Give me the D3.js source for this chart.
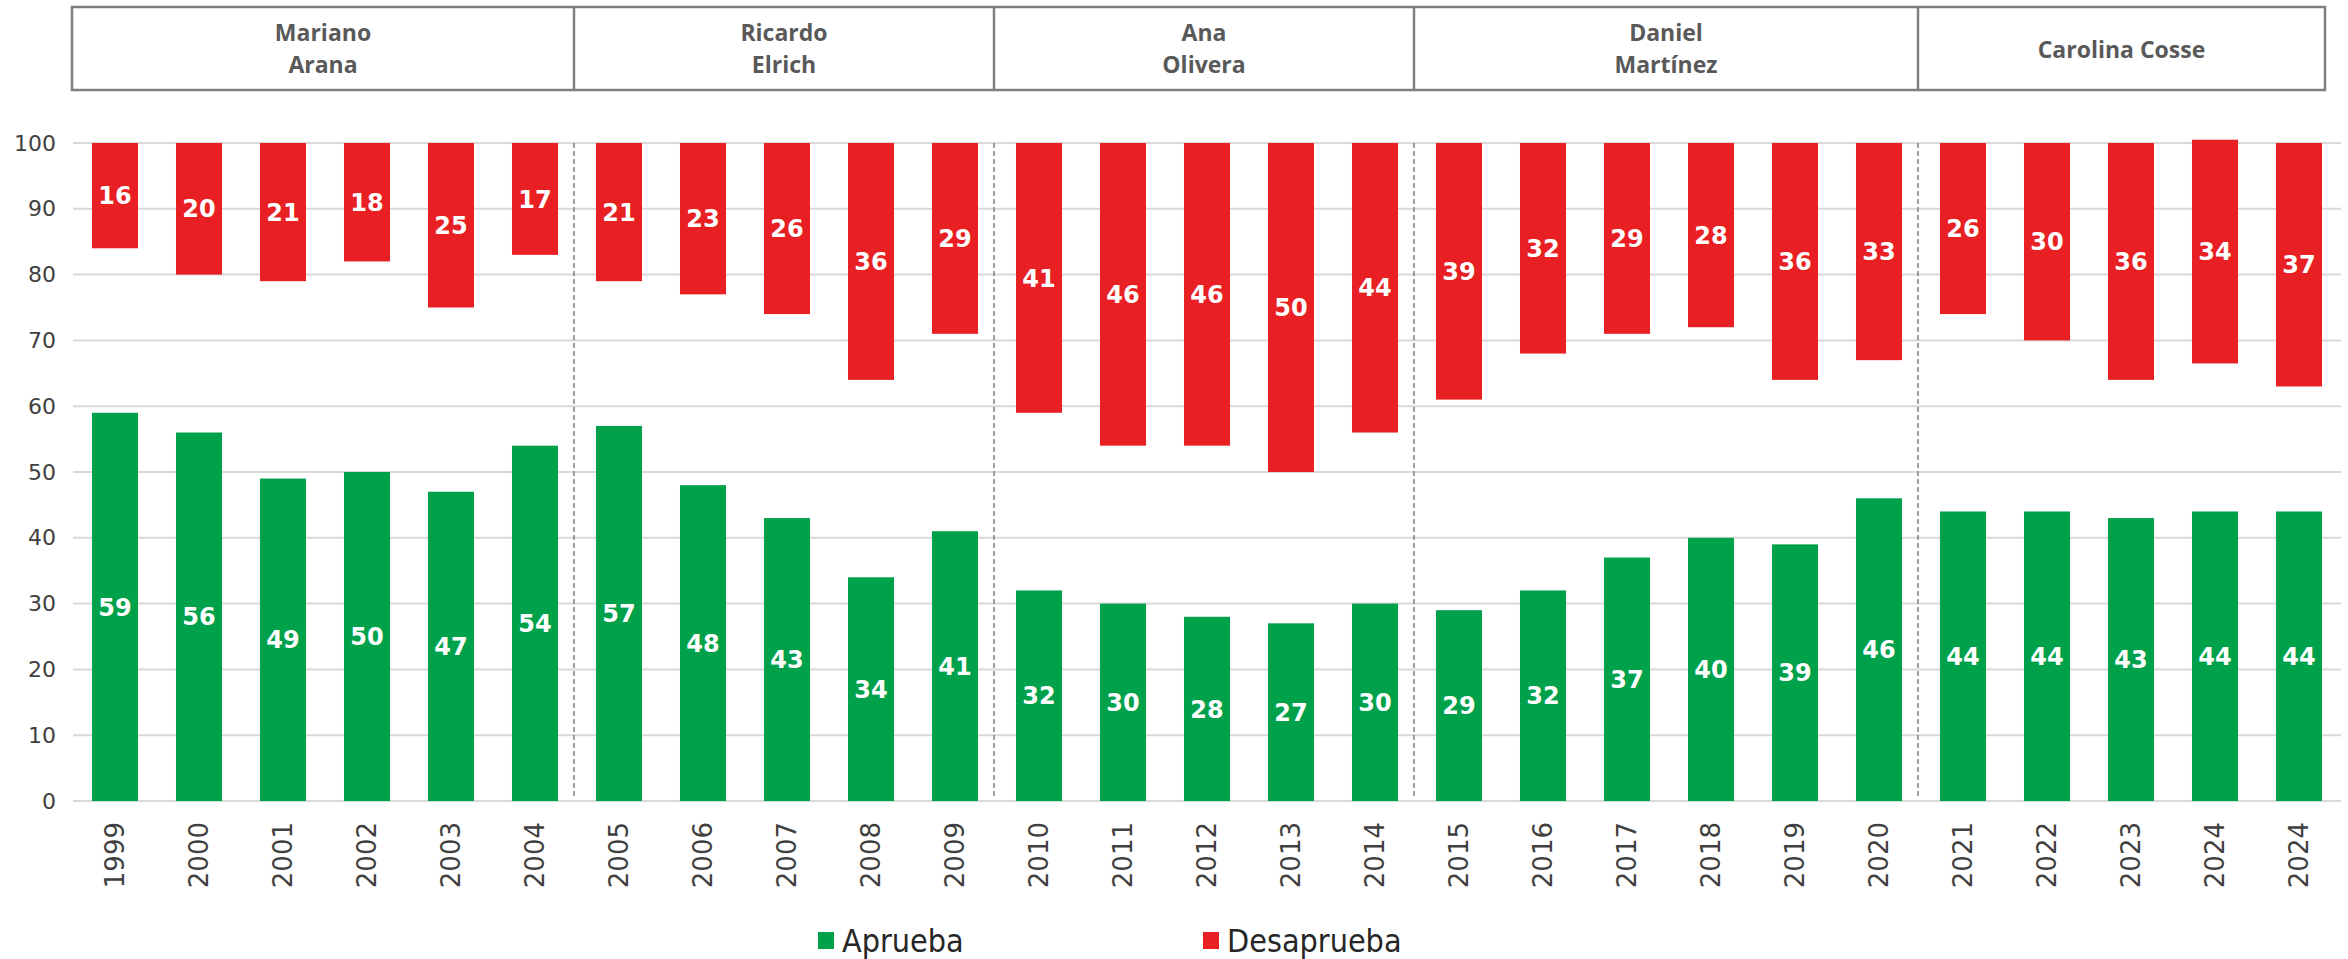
<!DOCTYPE html>
<html>
<head>
<meta charset="utf-8">
<script src="https://cdn.jsdelivr.net/npm/d3@7"></script>
<style>
  html, body { margin: 0; padding: 0; background: #fff; }
  svg { display: block; }
</style>
</head>
<body>
<div id="chart"></div>
<script>
const years = ['1999', '2000', '2001', '2002', '2003', '2004',
  '2005', '2006', '2007', '2008', '2009',
  '2010', '2011', '2012', '2013', '2014',
  '2015', '2016', '2017', '2018', '2019', '2020',
  '2021', '2022', '2023', '2024', '2024'];
const aprueba = [59, 56, 49, 50, 47, 54,
  57, 48, 43, 34, 41,
  32, 30, 28, 27, 30,
  29, 32, 37, 40, 39, 46,
  44, 44, 43, 44, 44];
const desaprueba = [16, 20, 21, 18, 25, 17,
  21, 23, 26, 36, 29,
  41, 46, 46, 50, 44,
  39, 32, 29, 28, 36, 33,
  26, 30, 36, 34, 37];
// where the red bar starts (one bar pokes above 100)
const desapruebaBase = [84, 80, 79, 82, 75, 83,
  79, 77, 74, 64, 71,
  59, 54, 54, 50, 56,
  61, 68, 71, 72, 64, 67,
  74, 70, 64, 66.5, 63];
const mayors = [['Mariano', 'Arana'], ['Ricardo', 'Elrich'], ['Ana', 'Olivera'],
  ['Daniel', 'Martínez'], ['Carolina Cosse']];
const mayorTerms = [6, 5, 5, 6, 5];
const yTicks = [0, 10, 20, 30, 40, 50, 60, 70, 80, 90, 100];
const seriesNames = ['Aprueba', 'Desaprueba'];
const seriesColors = ['#00a14b', '#e82023'];

const width = 2348;
const height = 959;
const plotLeft = 73;
const plotRight = 2341;
const plotTop = 143;
const plotBottom = 801;

const svg = d3.select('#chart').append('svg')
  .attr('width', width)
  .attr('height', height);

const x = d3.scaleBand()
  .domain(d3.range(years.length))
  .range([plotLeft, plotRight])
  .paddingInner(0.452)
  .paddingOuter(0.226);

const y = d3.scaleLinear()
  .domain([0, 100])
  .range([plotBottom, plotTop]);

// grid lines
svg.append('g')
  .selectAll('line')
  .data(yTicks)
  .join('line')
  .attr('x1', plotLeft)
  .attr('x2', plotRight)
  .attr('y1', d => y(d))
  .attr('y2', d => y(d))
  .attr('stroke', '#d9d9d9')
  .attr('stroke-width', 2);

// y axis labels
const yAxis = svg.append('g')
  .attr('transform', `translate(${plotLeft - 17},0)`)
  .call(d3.axisLeft(y).tickValues(yTicks).tickSize(0).tickPadding(0));
yAxis.select('.domain').remove();
yAxis.selectAll('text')
  .attr('font-family', 'DejaVu Sans, sans-serif')
  .attr('font-size', 22)
  .attr('fill', '#404040');

// x axis labels
const xAxis = svg.append('g')
  .attr('transform', `translate(0,${plotBottom})`)
  .call(d3.axisBottom(x).tickFormat(i => years[i]).tickSize(0).tickPadding(0));
xAxis.select('.domain').remove();
xAxis.selectAll('text')
  .attr('font-family', 'DejaVu Sans, sans-serif')
  .attr('font-size', 26)
  .attr('fill', '#404040')
  .attr('text-anchor', 'end')
  .attr('dy', '0.36em')
  .attr('transform', 'translate(0,21) rotate(-90)')
  .attr('x', 0)
  .attr('y', 0);

// mayor terms: cumulative start index
const starts = [];
let acc = 0;
mayorTerms.forEach(n => { starts.push(acc); acc += n; });
const gapLeft = i => x(i) - (x.step() - x.bandwidth()) / 2 - 3;

// dashed separators between terms
svg.append('g')
  .selectAll('line')
  .data(starts.slice(1))
  .join('line')
  .attr('x1', d => gapLeft(d))
  .attr('x2', d => gapLeft(d))
  .attr('y1', y(100))
  .attr('y2', y(0) - 4)
  .attr('stroke', '#808080')
  .attr('stroke-width', 1.5)
  .attr('stroke-dasharray', '5,3');

// green bars
svg.append('g')
  .selectAll('rect')
  .data(aprueba)
  .join('rect')
  .attr('x', (d, i) => x(i))
  .attr('width', x.bandwidth())
  .attr('y', d => y(d))
  .attr('height', d => y(0) - y(d))
  .attr('fill', seriesColors[0]);

// red bars
svg.append('g')
  .selectAll('rect')
  .data(desaprueba)
  .join('rect')
  .attr('x', (d, i) => x(i))
  .attr('width', x.bandwidth())
  .attr('y', (d, i) => y(desapruebaBase[i] + d))
  .attr('height', (d, i) => y(desapruebaBase[i]) - y(desapruebaBase[i] + d))
  .attr('fill', seriesColors[1]);

// value labels
const labelStyle = sel => sel
  .attr('text-anchor', 'middle')
  .attr('dy', '0.36em')
  .attr('font-family', 'DejaVu Sans, sans-serif')
  .attr('font-weight', 'bold')
  .attr('font-size', 24)
  .attr('fill', '#ffffff');

svg.append('g')
  .selectAll('text')
  .data(aprueba)
  .join('text')
  .attr('x', (d, i) => x(i) + x.bandwidth() / 2)
  .attr('y', d => y(d / 2))
  .text(d => d)
  .call(labelStyle);

svg.append('g')
  .selectAll('text')
  .data(desaprueba)
  .join('text')
  .attr('x', (d, i) => x(i) + x.bandwidth() / 2)
  .attr('y', (d, i) => y(desapruebaBase[i] + d / 2))
  .text(d => d)
  .call(labelStyle);

// header boxes with mayor names
const headTop = 7;
const headBottom = 90;
const headRight = plotRight - 16;
const head = svg.append('g');
const cellLeft = i => i === 0 ? plotLeft - 1 : gapLeft(starts[i]);
const cellRight = i => i === mayors.length - 1 ? headRight : cellLeft(i + 1);

head.append('rect')
  .attr('x', cellLeft(0))
  .attr('y', headTop)
  .attr('width', headRight - cellLeft(0))
  .attr('height', headBottom - headTop)
  .attr('fill', 'none')
  .attr('stroke', '#7f7f7f')
  .attr('stroke-width', 2.5);

head.selectAll('line')
  .data(starts.slice(1))
  .join('line')
  .attr('x1', (d, i) => cellLeft(i + 1))
  .attr('x2', (d, i) => cellLeft(i + 1))
  .attr('y1', headTop)
  .attr('y2', headBottom)
  .attr('stroke', '#7f7f7f')
  .attr('stroke-width', 2.5);

mayors.forEach((lines, i) => {
  const cx = (cellLeft(i) + cellRight(i)) / 2;
  const t = head.append('text')
    .attr('text-anchor', 'middle')
    .attr('font-family', 'Open Sans, sans-serif')
    .attr('font-weight', 700)
    .attr('font-size', 23)
    .attr('fill', '#595959');
  const ys = lines.length === 2 ? [33, 65] : [50];
  lines.forEach((s, k) => {
    t.append('tspan')
      .attr('x', cx)
      .attr('y', ys[k])
      .attr('dy', '0.36em')
      .text(s);
  });
});

// legend
const legendX = [818, 1203];
const legend = svg.append('g');
seriesNames.forEach((name, i) => {
  legend.append('rect')
    .attr('x', legendX[i])
    .attr('y', 932)
    .attr('width', 16)
    .attr('height', 17)
    .attr('fill', seriesColors[i]);
  legend.append('text')
    .attr('x', legendX[i] + 24)
    .attr('y', 952)
    .attr('font-family', 'Liberation Sans Narrow, DejaVu Sans Condensed, sans-serif')
    .attr('font-size', 32)
    .attr('fill', '#262626')
    .text(name);
});
</script>
</body>
</html>
